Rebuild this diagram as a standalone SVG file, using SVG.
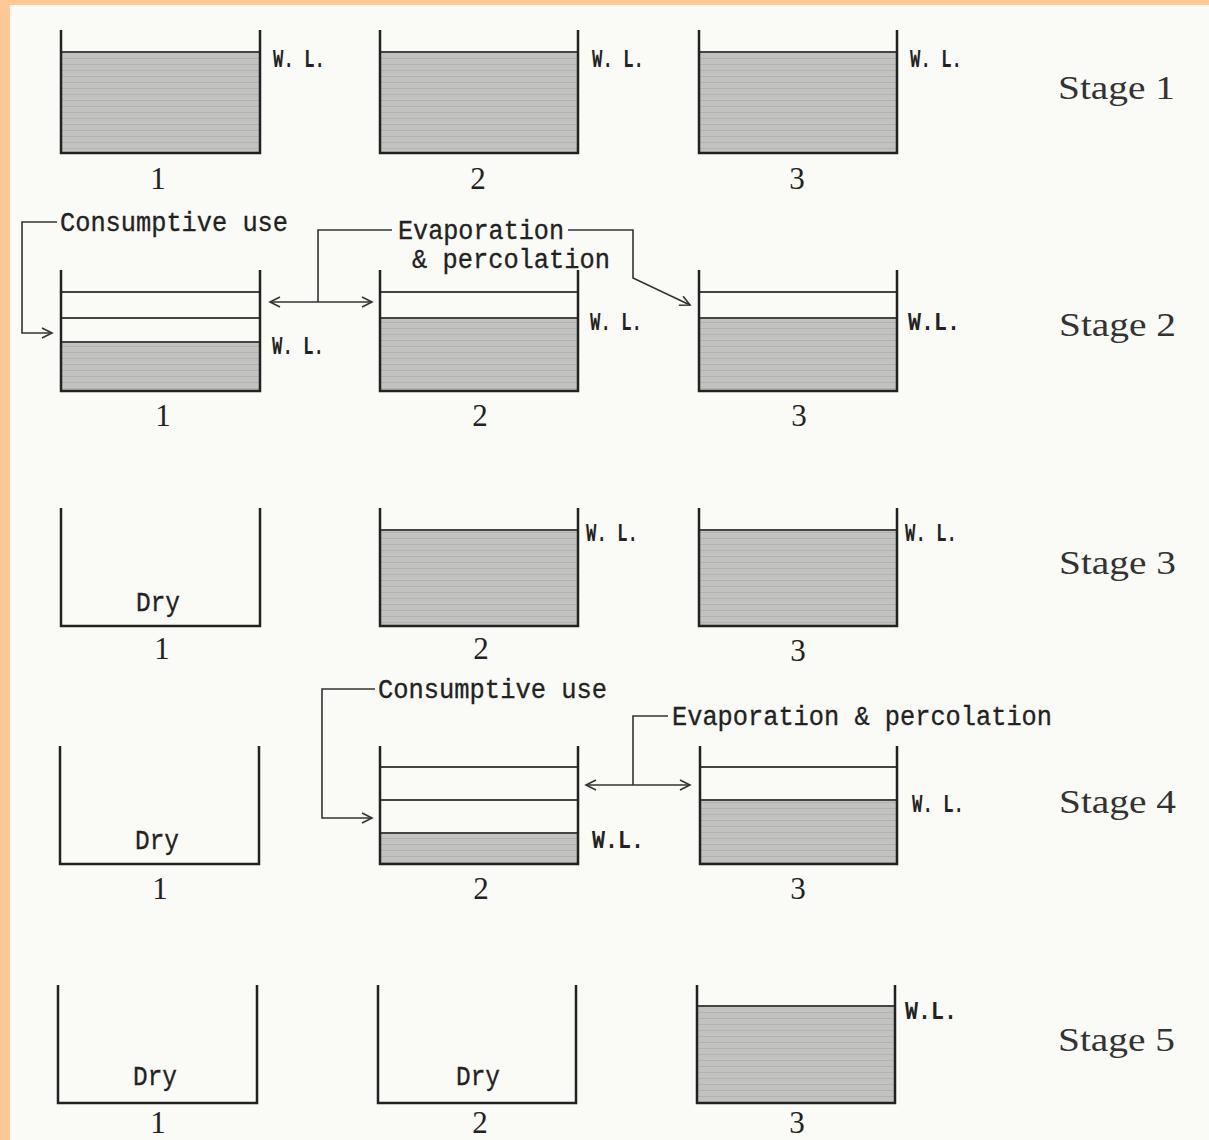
<svg xmlns="http://www.w3.org/2000/svg" width="1209" height="1140" viewBox="0 0 1209 1140">
<style>
.wall{fill:none;stroke:#222;stroke-width:2.5;stroke-linejoin:miter}
.lvl{stroke:#444;stroke-width:2}
.water{fill:url(#wp)}
.wl{font-family:"Liberation Mono",monospace;font-size:25px;font-weight:bold;fill:#222}
.lab{font-family:"Liberation Mono",monospace;font-size:27px;fill:#222;stroke:#222;stroke-width:0.3}
.num{font-family:"Liberation Serif",serif;font-size:31px;fill:#222;text-anchor:middle}
.stage{font-family:"Liberation Serif",serif;font-size:34px;fill:#333}
.con{fill:none;stroke:#333;stroke-width:1.6}
</style>
<defs>
<pattern id="wp" width="8" height="6" patternUnits="userSpaceOnUse">
<rect width="8" height="6" fill="#C2C2C0"/>
<rect y="4" width="8" height="1" fill="#B2B2B0"/>
</pattern>
<marker id="ah" markerWidth="14" markerHeight="12" refX="12" refY="6" orient="auto-start-reverse" markerUnits="userSpaceOnUse">
<path d="M2,1 L12,6 L2,11" fill="none" stroke="#333" stroke-width="1.6"/>
</marker>
</defs>
<rect width="1209" height="1140" fill="#FAFAF6"/>
<rect width="1209" height="5" fill="#FFC894"/>
<rect width="10" height="1140" fill="#FFC894"/>

<!-- Stage 1 -->
<g id="s1t1"><rect class="water" x="61" y="52" width="199" height="101"/><line class="lvl" x1="61" y1="52" x2="260" y2="52"/><path class="wall" d="M61,30 V153 H260 V30"/><text class="wl" x="273" y="67" textLength="52" lengthAdjust="spacingAndGlyphs">W. L.</text><text class="num" x="158" y="189">1</text></g>
<g id="s1t2"><rect class="water" x="380" y="52" width="198" height="101"/><line class="lvl" x1="380" y1="52" x2="578" y2="52"/><path class="wall" d="M380,30 V153 H578 V30"/><text class="wl" x="592" y="67" textLength="52" lengthAdjust="spacingAndGlyphs">W. L.</text><text class="num" x="478" y="189">2</text></g>
<g id="s1t3"><rect class="water" x="699" y="52" width="198" height="101"/><line class="lvl" x1="699" y1="52" x2="897" y2="52"/><path class="wall" d="M699,30 V153 H897 V30"/><text class="wl" x="910" y="67" textLength="52" lengthAdjust="spacingAndGlyphs">W. L.</text><text class="num" x="797" y="189">3</text></g>
<text id="stage1" class="stage" x="1058" y="99" textLength="117" lengthAdjust="spacingAndGlyphs">Stage 1</text>

<!-- Stage 2 -->
<g id="s2t1"><rect class="water" x="61" y="342" width="199" height="49"/><line class="lvl" x1="61" y1="292" x2="260" y2="292"/><line class="lvl" x1="61" y1="318" x2="260" y2="318"/><line class="lvl" x1="61" y1="342" x2="260" y2="342"/><path class="wall" d="M61,270 V391 H260 V270"/><text class="wl" x="272" y="354" textLength="52" lengthAdjust="spacingAndGlyphs">W. L.</text><text class="num" x="163" y="426">1</text></g>
<g id="s2t2"><rect class="water" x="380" y="318" width="198" height="73"/><line class="lvl" x1="380" y1="292" x2="578" y2="292"/><line class="lvl" x1="380" y1="318" x2="578" y2="318"/><path class="wall" d="M380,270 V391 H578 V270"/><text class="wl" x="590" y="330" textLength="52" lengthAdjust="spacingAndGlyphs">W. L.</text><text class="num" x="480" y="426">2</text></g>
<g id="s2t3"><rect class="water" x="699" y="318" width="198" height="73"/><line class="lvl" x1="699" y1="292" x2="897" y2="292"/><line class="lvl" x1="699" y1="318" x2="897" y2="318"/><path class="wall" d="M699,270 V391 H897 V270"/><text class="wl" x="908" y="330" textLength="52" lengthAdjust="spacingAndGlyphs">W.L.</text><text class="num" x="799" y="426">3</text></g>
<text id="stage2" class="stage" x="1059" y="336" textLength="117" lengthAdjust="spacingAndGlyphs">Stage 2</text>
<g id="s2labels">
<text class="lab" x="60" y="231" textLength="228" lengthAdjust="spacingAndGlyphs">Consumptive use</text>
<text class="lab" x="398" y="239" textLength="166" lengthAdjust="spacingAndGlyphs">Evaporation</text>
<text class="lab" x="412" y="268" textLength="198" lengthAdjust="spacingAndGlyphs">&amp; percolation</text>
</g>

<!-- Stage 3 -->
<g id="s3t1"><path class="wall" d="M61,508 V626 H260 V508"/><text class="lab" x="158" y="611" text-anchor="middle" textLength="44" lengthAdjust="spacingAndGlyphs">Dry</text><text class="num" x="162" y="659">1</text></g>
<g id="s3t2"><rect class="water" x="380" y="530" width="198" height="96"/><line class="lvl" x1="380" y1="530" x2="578" y2="530"/><path class="wall" d="M380,508 V626 H578 V508"/><text class="wl" x="586" y="541" textLength="52" lengthAdjust="spacingAndGlyphs">W. L.</text><text class="num" x="481" y="659">2</text></g>
<g id="s3t3"><rect class="water" x="699" y="530" width="198" height="96"/><line class="lvl" x1="699" y1="530" x2="897" y2="530"/><path class="wall" d="M699,508 V626 H897 V508"/><text class="wl" x="905" y="541" textLength="52" lengthAdjust="spacingAndGlyphs">W. L.</text><text class="num" x="798" y="661">3</text></g>
<text id="stage3" class="stage" x="1059" y="574" textLength="117" lengthAdjust="spacingAndGlyphs">Stage 3</text>

<!-- Stage 4 -->
<g id="s4t1"><path class="wall" d="M60,746 V864 H259 V746"/><text class="lab" x="157" y="849" text-anchor="middle" textLength="44" lengthAdjust="spacingAndGlyphs">Dry</text><text class="num" x="160" y="899">1</text></g>
<g id="s4t2"><rect class="water" x="380" y="833" width="198" height="31"/><line class="lvl" x1="380" y1="767" x2="578" y2="767"/><line class="lvl" x1="380" y1="800" x2="578" y2="800"/><line class="lvl" x1="380" y1="833" x2="578" y2="833"/><path class="wall" d="M380,746 V864 H578 V746"/><text class="wl" x="592" y="848" textLength="52" lengthAdjust="spacingAndGlyphs">W.L.</text><text class="num" x="481" y="899">2</text></g>
<g id="s4t3"><rect class="water" x="700" y="800" width="197" height="64"/><line class="lvl" x1="700" y1="767" x2="897" y2="767"/><line class="lvl" x1="700" y1="800" x2="897" y2="800"/><path class="wall" d="M700,746 V864 H897 V746"/><text class="wl" x="912" y="812" textLength="52" lengthAdjust="spacingAndGlyphs">W. L.</text><text class="num" x="798" y="899">3</text></g>
<text id="stage4" class="stage" x="1059" y="813" textLength="117" lengthAdjust="spacingAndGlyphs">Stage 4</text>
<g id="s4labels">
<text class="lab" x="378" y="698" textLength="229" lengthAdjust="spacingAndGlyphs">Consumptive use</text>
<text class="lab" x="672" y="725" textLength="380" lengthAdjust="spacingAndGlyphs">Evaporation &amp; percolation</text>
</g>

<!-- Stage 5 -->
<g id="s5t1"><path class="wall" d="M58,985 V1103 H257 V985"/><text class="lab" x="155" y="1085" text-anchor="middle" textLength="44" lengthAdjust="spacingAndGlyphs">Dry</text><text class="num" x="158" y="1133" font-size="29">1</text></g>
<g id="s5t2"><path class="wall" d="M378,985 V1103 H576 V985"/><text class="lab" x="478" y="1085" text-anchor="middle" textLength="44" lengthAdjust="spacingAndGlyphs">Dry</text><text class="num" x="480" y="1133" font-size="29">2</text></g>
<g id="s5t3"><rect class="water" x="697" y="1006" width="198" height="97"/><line class="lvl" x1="697" y1="1006" x2="895" y2="1006"/><path class="wall" d="M697,985 V1103 H895 V985"/><text class="wl" x="905" y="1019" textLength="52" lengthAdjust="spacingAndGlyphs">W.L.</text><text class="num" x="797" y="1133" font-size="29">3</text></g>
<text id="stage5" class="stage" x="1058" y="1051" textLength="117" lengthAdjust="spacingAndGlyphs">Stage 5</text>

<!-- Connectors -->
<g id="connectors">
<path class="con" d="M57,222 H22 V333 H52" marker-end="url(#ah)"/>
<path class="con" d="M270,302 H372" marker-start="url(#ah)" marker-end="url(#ah)"/>
<path class="con" d="M318,302 V230 H392"/>
<path class="con" d="M568,230 H633 V278 L690,305" marker-end="url(#ah)"/>
<path class="con" d="M375,689 H322 V818 H372" marker-end="url(#ah)"/>
<path class="con" d="M586,785 H690" marker-start="url(#ah)" marker-end="url(#ah)"/>
<path class="con" d="M633,785 V716 H668"/>
</g>
</svg>
